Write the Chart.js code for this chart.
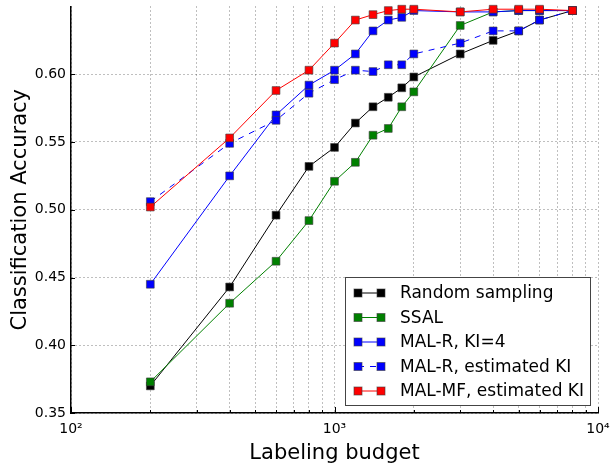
<!DOCTYPE html>
<html>
<head>
<meta charset="utf-8">
<script src="https://cdn.jsdelivr.net/npm/chart.js@4"></script>
<style>
  body { margin: 0; background: #fff; }
  #wrap { width: 611px; height: 466px; }
</style>
</head>
<body>
<div id="wrap"><canvas id="chart" width="611" height="466"></canvas></div>
<script>
// datos
const budgets = [200, 400, 600, 800, 1000, 1200, 1400, 1600, 1800, 2000, 3000, 4000, 5000, 6000, 8000];
const randomSampling = [0.370, 0.443, 0.496, 0.532, 0.546, 0.564, 0.576, 0.583, 0.590, 0.598, 0.615, 0.625, 0.632, 0.640, 0.647];
const ssal = [0.373, 0.431, 0.462, 0.492, 0.521, 0.535, 0.555, 0.560, 0.576, 0.587, 0.636, 0.646, 0.647, 0.647, 0.647];
const malR = [0.445, 0.525, 0.570, 0.592, 0.603, 0.615, 0.632, 0.640, 0.642, 0.647, 0.646, 0.646, 0.647, 0.647, 0.647];
const malREst = [0.506, 0.549, 0.566, 0.586, 0.596, 0.603, 0.602, 0.607, 0.607, 0.615, 0.623, 0.632, 0.632, 0.640, 0.647];
const malMF = [0.502, 0.553, 0.588, 0.603, 0.623, 0.640, 0.644, 0.647, 0.648, 0.648, 0.646, 0.648, 0.648, 0.648, 0.647];

const seriesNames = ["Random sampling", "SSAL", "MAL-R, KI=4", "MAL-R, estimated KI", "MAL-MF, estimated KI"];
const yTicks = [0.35, 0.40, 0.45, 0.50, 0.55, 0.60];
const xTicks = [100, 200, 300, 400, 500, 600, 700, 800, 900,
                1000, 2000, 3000, 4000, 5000, 6000, 7000, 8000, 9000, 10000];
const xLabels = { 100: "10²", 1000: "10³", 10000: "10⁴" };

const FONT = "'DejaVu Sans', sans-serif";

function makeSet(label, values, color, dashed, order) {
  return {
    label: label,
    data: budgets.map((b, i) => ({ x: b, y: values[i] })),
    borderColor: color,
    backgroundColor: color,
    borderWidth: 1,
    borderDash: dashed ? [6, 6] : [],
    pointStyle: "rect",
    pointRadius: 5.5,
    pointBackgroundColor: color,
    pointBorderColor: "rgba(60,60,60,0.6)",
    pointBorderWidth: 1,
    tension: 0,
    clip: false,
    order: order
  };
}

// marcas de los ejes hacia dentro (estilo matplotlib)
const innerTicks = {
  id: "innerTicks",
  afterDatasetsDraw(chart) {
    const { ctx, chartArea, scales } = chart;
    ctx.save();
    ctx.strokeStyle = "#000";
    ctx.lineWidth = 1;
    ctx.beginPath();
    xTicks.forEach(v => {
      const px = Math.round(scales.x.getPixelForValue(v)) + 0.5;
      const len = xLabels[v] ? 6 : 3;
      ctx.moveTo(px, chartArea.bottom);
      ctx.lineTo(px, chartArea.bottom - len);
    });
    yTicks.forEach(v => {
      const py = Math.round(scales.y.getPixelForValue(v)) + 0.5;
      ctx.moveTo(chartArea.left, py);
      ctx.lineTo(chartArea.left + 4, py);
    });
    ctx.stroke();
    ctx.restore();
  }
};

// leyenda dentro del área del gráfico, como en matplotlib
const legendBox = {
  id: "legendBox",
  afterDraw(chart) {
    const ctx = chart.ctx;
    const x0 = 345, y0 = 277, w = 245, h = 128;
    ctx.save();
    ctx.fillStyle = "#fff";
    ctx.fillRect(x0, y0, w, h);
    ctx.strokeStyle = "#444";
    ctx.lineWidth = 1;
    ctx.strokeRect(x0 + 0.5, y0 + 0.5, w, h);
    chart.data.datasets.forEach((ds, i) => {
      const y = 293 + i * 24.5;
      ctx.strokeStyle = ds.borderColor;
      ctx.lineWidth = 1;
      ctx.setLineDash(ds.borderDash);
      ctx.beginPath();
      ctx.moveTo(358, y);
      ctx.lineTo(381, y);
      ctx.stroke();
      ctx.setLineDash([]);
      [358, 381].forEach(px => {
        ctx.fillStyle = ds.borderColor;
        ctx.fillRect(px - 4, y - 4, 8, 8);
        ctx.strokeStyle = "rgba(60,60,60,0.6)";
        ctx.strokeRect(px - 4, y - 4, 8, 8);
      });
      ctx.fillStyle = "#000";
      ctx.font = "17px " + FONT;
      ctx.textBaseline = "middle";
      ctx.textAlign = "left";
      ctx.fillText(ds.label, 400, y + 1);
    });
    ctx.restore();
  }
};

function noPad(scale) {
  scale.paddingTop = 0;
  scale.paddingBottom = 0;
  scale.paddingLeft = 0;
  scale.paddingRight = 0;
}

const gridStyle = { color: "rgba(0,0,0,0.5)", lineWidth: 1, drawTicks: false };

const ctx = document.getElementById("chart").getContext("2d");
new Chart(ctx, {
  type: "line",
  data: {
    datasets: [
      makeSet(seriesNames[0], randomSampling, "#000000", false, 4),
      makeSet(seriesNames[1], ssal, "#008000", false, 3),
      makeSet(seriesNames[2], malR, "#0000ff", false, 2),
      makeSet(seriesNames[3], malREst, "#0000ff", true, 1),
      makeSet(seriesNames[4], malMF, "#ff0000", false, 0)
    ]
  },
  options: {
    responsive: false,
    devicePixelRatio: 1,
    animation: false,
    layout: { padding: { top: 5, right: 13, left: 0, bottom: 0 } },
    plugins: {
      legend: { display: false },
      tooltip: { enabled: false }
    },
    scales: {
      x: {
        type: "logarithmic",
        min: 100,
        max: 10000,
        afterFit(scale) { scale.height = 53; noPad(scale); },
        afterBuildTicks(scale) { scale.ticks = xTicks.map(v => ({ value: v })); },
        grid: gridStyle,
        border: { display: true, color: "#000", width: 1.5, dash: [1, 3] },
        ticks: {
          autoSkip: false,
          maxRotation: 0,
          padding: 8,
          color: "#000",
          font: { family: FONT, size: 14 },
          callback: v => xLabels[v] || ""
        },
        title: {
          display: true,
          text: "Labeling budget",
          color: "#000",
          font: { family: FONT, size: 21 },
          padding: { top: 1, bottom: 0 }
        }
      },
      y: {
        min: 0.35,
        max: 0.65,
        afterFit(scale) { scale.width = 71; noPad(scale); },
        afterBuildTicks(scale) { scale.ticks = yTicks.map(v => ({ value: v })); },
        grid: gridStyle,
        border: { display: true, color: "#000", width: 1.5, dash: [1, 3] },
        ticks: {
          padding: 5,
          color: "#000",
          font: { family: FONT, size: 14 },
          callback: v => v.toFixed(2)
        },
        title: {
          display: true,
          text: "Classification Accuracy",
          color: "#000",
          font: { family: FONT, size: 21 },
          padding: { top: 8, bottom: 0 }
        }
      }
    }
  },
  plugins: [innerTicks, legendBox]
});
</script>
</body>
</html>
